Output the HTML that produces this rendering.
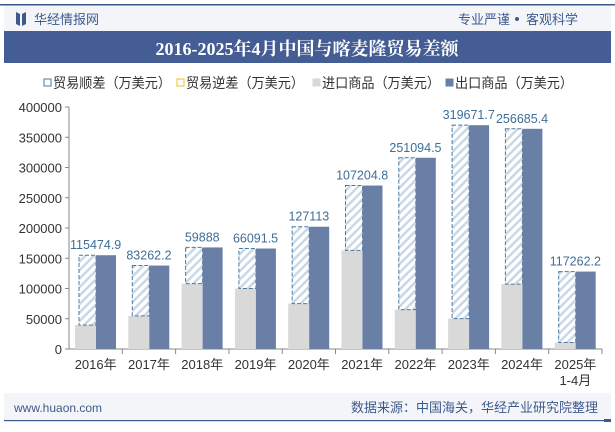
<!DOCTYPE html>
<html><head><meta charset="utf-8"><style>
body{margin:0;width:615px;height:427px;overflow:hidden;background:#fff;font-family:"Liberation Sans","Noto Sans CJK SC",sans-serif;}
</style></head><body>
<svg width="615" height="427" xmlns="http://www.w3.org/2000/svg">
<defs><pattern id="hatch" width="6" height="6" patternUnits="userSpaceOnUse" patternTransform="rotate(45)"><rect width="6" height="6" fill="#fff"/><rect width="2.5" height="6" fill="#c8d8e6"/></pattern></defs>
<rect x="0" y="4" width="615" height="1.5" fill="#3d5a8e"/>
<rect x="4" y="5.5" width="607" height="25.5" fill="#f4f5f9"/>
<path d="M16 12 L20 14 L20 26 L16 24 Z M22 14 L26 12 L26 24 L22 26 Z" fill="#3d5a8e"/>
<text x="34" y="24" font-size="13" fill="#3d5a8e">华经情报网</text>
<text x="510" y="24" font-size="13" fill="#3d5a8e" text-anchor="end">专业严谨</text>
<circle cx="517" cy="19" r="2" fill="#3d5a8e"/>
<text x="526" y="24" font-size="13" fill="#3d5a8e">客观科学</text>
<rect x="4" y="31" width="607" height="32" fill="#445d94"/>
<text x="307" y="55" font-size="18" font-weight="bold" fill="#fff" text-anchor="middle" font-family="Liberation Serif,Noto Serif CJK SC,serif">2016-2025年4月中国与喀麦隆贸易差额</text>
<g id="legend" font-size="14" fill="#333"></g>
<g id="plot"></g>
<rect x="4" y="393" width="607" height="27" fill="#f4f5f9"/>
<rect x="4" y="420" width="600" height="1.2" fill="#3d5a8e"/>
<rect x="604" y="419" width="7" height="3" fill="#3d5a8e"/>
<text x="14" y="412" font-size="12" fill="#3d5a8e">www.huaon.com</text>
<text x="598" y="412" font-size="13" fill="#3d5a8e" text-anchor="end">数据来源：中国海关，华经产业研究院整理</text>
</svg>
<script>
const categories=["2016年","2017年","2018年","2019年","2020年","2021年","2022年","2023年","2024年","2025年"];
const surplus=[115474.9,83262.2,59888,66091.5,127113,107204.8,251094.5,319671.7,256685.4,117262.2];
const surplusLabels=["115474.9","83262.2","59888","66091.5","127113","107204.8","251094.5","319671.7","256685.4","117262.2"];
const imports=[39500,54700,108000,100000,75000,163000,65000,50300,107300,10700];
const exports_=[155000,137962,167888,166091,202113,270205,316095,369972,363985,127962];
const yTicks=[0,50000,100000,150000,200000,250000,300000,350000,400000];
const NS="http://www.w3.org/2000/svg";
const x0=69,x1=602,y0=349,yTop=107,ymax=400000;
const bw=(x1-x0)/categories.length;
const Y=v=>y0-(v/ymax)*(y0-yTop);
const plot=document.getElementById('plot');
function mk(tag,at,parent){const e=document.createElementNS(NS,tag);for(const k in at)e.setAttribute(k,at[k]);(parent||plot).appendChild(e);return e;}
yTicks.forEach(t=>{const e=mk('text',{x:x0-7,y:Y(t)+5,'font-size':13,fill:'#333','text-anchor':'end'});e.textContent=t;


mk('line',{x1:x0-4,x2:x0,y1:Y(t),y2:Y(t),stroke:'#888'});});
mk('line',{x1:x0,x2:x0,y1:yTop,y2:y0,stroke:'#888'});
mk('line',{x1:x0,x2:x1,y1:y0,y2:y0,stroke:'#888'});
categories.forEach((c,i)=>{
 const bx=x0+i*bw;
 mk('line',{x1:bx+bw,x2:bx+bw,y1:y0,y2:y0+5,stroke:'#888'});
 const g=mk('rect',{x:bx+6,y:Y(imports[i]),width:21,height:y0-Y(imports[i]),fill:'#d9d9d9'});
 
 
 const h=mk('rect',{x:bx+10,y:Y(imports[i]+surplus[i]),width:17,height:Y(imports[i])-Y(imports[i]+surplus[i]),fill:'url(#hatch)',stroke:'#4a7aa0','stroke-dasharray':'4,2','stroke-width':1});
 
 
 const e=mk('rect',{x:bx+27,y:Y(exports_[i]),width:20,height:y0-Y(exports_[i]),fill:'#6a7fa6'});
 
 
 const l=mk('text',{x:bx+bw/2,y:Y(imports[i]+surplus[i])-6,'font-size':12.5,fill:'#3f6e96','text-anchor':'middle'});l.textContent=surplusLabels[i];
 
 
 const t=mk('text',{x:bx+bw/2,y:y0+20,'font-size':13,fill:'#333','text-anchor':'middle'});t.textContent=c;
 
 
 if(i===categories.length-1){const t2=mk('text',{x:bx+bw/2,y:y0+36,'font-size':13,fill:'#333','text-anchor':'middle'});t2.textContent='1-4月';}
});
const lg=document.getElementById('legend');
const items=[["贸易顺差（万美元）","#fff","#4a7aa0",44],["贸易逆差（万美元）","#fff","#f0c020",177],["进口商品（万美元）","#d9d9d9","#d9d9d9",313],["出口商品（万美元）","#6a7fa6","#6a7fa6",446]];
items.forEach(it=>{const r=mk('rect',{x:it[3],y:79,width:7,height:7,fill:it[1],stroke:it[2]},lg);


const t=mk('text',{x:it[3]+9,y:88,textLength:118,lengthAdjust:'spacingAndGlyphs'},lg);t.textContent=it[0];

});
</script>
</body></html>
